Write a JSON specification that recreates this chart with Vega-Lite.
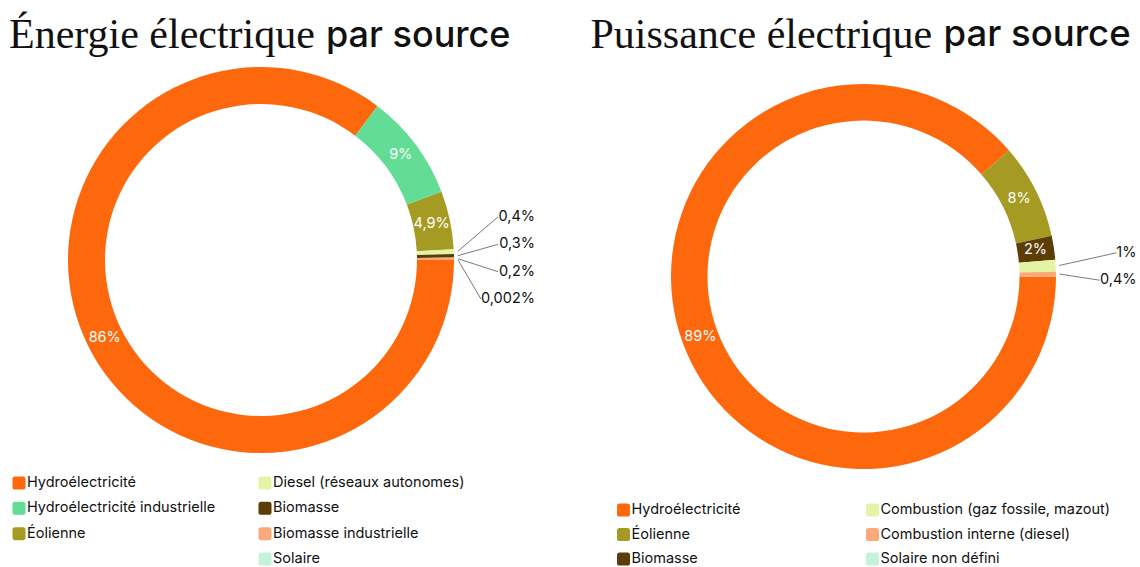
{
  "$schema": "https://vega.github.io/schema/vega-lite/v6.json",
  "padding": {"left": 0, "top": 14, "right": 0, "bottom": 0},
  "autosize": {"type": "pad"},
  "background": "white",
  "config": {"view": {"stroke": null}, "font": "Inter"},
  "datasets": {
    "energie": [
      {"source": "Hydroélectricité", "value": 86, "label": "86%"},
      {"source": "Hydroélectricité industrielle", "value": 9, "label": "9%"},
      {"source": "Éolienne", "value": 4.9, "label": "4,9%"},
      {"source": "Diesel (réseaux autonomes)", "value": 0.4, "label": "0,4%"},
      {"source": "Biomasse", "value": 0.3, "label": "0,3%"},
      {"source": "Biomasse industrielle", "value": 0.2, "label": "0,2%"},
      {"source": "Solaire", "value": 0.002, "label": "0,002%"}
    ],
    "puissance": [
      {"source": "Hydroélectricité", "value": 89, "label": "89%"},
      {"source": "Éolienne", "value": 8, "label": "8%"},
      {"source": "Biomasse", "value": 2, "label": "2%"},
      {"source": "Combustion (gaz fossile, mazout)", "value": 1, "label": "1%"},
      {"source": "Combustion interne (diesel)", "value": 0.4, "label": "0,4%"},
      {"source": "Solaire non défini", "value": 0, "label": ""}
    ]
  },
  "resolve": {"scale": {"theta": "independent", "x": "independent", "y": "independent"}},
  "bounds": "full",
  "spacing": 55.5,
  "hconcat": [
    {
      "resolve": {"scale": {"theta": "independent", "x": "independent", "y": "independent"}},
      "spacing": 4,
      "vconcat": [
        {
          "bounds": "full",
          "spacing": 11,
          "hconcat": [
            {"width": 1, "height": 1, "data": {"values": [{"a": 0}]}, "mark": {"type": "point", "opacity": 0, "size": 1}, "encoding": {},
             "title": {"text": "Énergie électrique", "font": "Liberation Serif", "fontSize": 42, "fontWeight": "normal", "anchor": "start", "baseline": "bottom", "offset": -44, "color": "#111111", "dx": 9}},
            {"width": 1, "height": 1, "data": {"values": [{"a": 0}]}, "mark": {"type": "point", "opacity": 0, "size": 1}, "encoding": {},
             "title": {"text": "par source", "font": "Inter", "fontSize": 36, "fontWeight": 500, "anchor": "start", "baseline": "bottom", "offset": -44, "dy": -8.5, "color": "#111111"}}
          ]
        },
        {
          "spacing": 15,
          "resolve": {"scale": {"theta": "independent", "x": "independent", "y": "independent"}},
          "vconcat": [
            {
              "width": 522, "height": 400,
              "data": {"name": "energie"},
              "transform": [
                {"window": [{"op": "row_number", "as": "idx"}]},
                {"joinaggregate": [{"op": "sum", "field": "value", "as": "total"}]},
                {"window": [{"op": "sum", "field": "value", "as": "cum"}], "sort": [{"field": "idx"}], "frame": [null, 0]},
                {"calculate": "datum.value / datum.total", "as": "pct"},
                {"calculate": "PI/2 + 2*PI*(datum.cum - datum.value/2)/datum.total", "as": "mid"},
                {"calculate": "197*sin(datum.mid)", "as": "sx"},
                {"calculate": "197*cos(datum.mid)", "as": "sy"}
              ],
              "layer": [
                {
                  "mark": {"type": "arc", "radius": 193, "radius2": 156},
                  "encoding": {
                    "theta": {"field": "value", "type": "quantitative", "stack": true, "scale": {"range": [1.5707963, 7.8539816]}},
                    "order": {"field": "idx", "type": "quantitative"},
                    "color": {"field": "source", "type": "nominal", "legend": null,
                      "scale": {"domain": ["Hydroélectricité", "Hydroélectricité industrielle", "Éolienne", "Diesel (réseaux autonomes)", "Biomasse", "Biomasse industrielle", "Solaire", "Combustion (gaz fossile, mazout)", "Combustion interne (diesel)", "Solaire non défini"],
                                "range": ["#fd680c", "#63dc95", "#a59a22", "#e3f5a4", "#5c3d05", "#fba97b", "#c5f3da", "#e3f5a4", "#fba97b", "#c5f3da"]}}
                  }
                },
                {
                  "mark": {"type": "text", "radius": 174.5, "font": "Inter", "fontSize": 14.5, "fill": "white"},
                  "encoding": {
                    "theta": {"field": "value", "type": "quantitative", "stack": true},
                    "order": {"field": "idx", "type": "quantitative"},
                    "text": {"condition": {"test": "datum.pct >= 0.015", "field": "label"}, "value": ""}
                  }
                },
                {
                  "transform": [
                    {"filter": "datum.pct < 0.015 && datum.value > 0"},
                    {"window": [{"op": "row_number", "as": "k"}], "sort": [{"field": "idx"}]},
                    {"joinaggregate": [{"op": "count", "as": "n"}]},
                    {"calculate": "2 + 27.4*((datum.n-1)/2 - (datum.k-1))", "as": "ly"},
                    {"calculate": "274", "as": "lx"},
                    {"calculate": "274 - 8.5*length(datum.label) - 3", "as": "ex"}
                  ],
                  "layer": [
                    {
                      "mark": {"type": "rule", "stroke": "#6b6b6b", "strokeWidth": 0.9},
                      "encoding": {
                        "x": {"field": "sx", "type": "quantitative", "scale": {"domain": [-261, 261], "nice": false, "zero": false}, "axis": null},
                        "y": {"field": "sy", "type": "quantitative", "scale": {"domain": [-200, 200], "nice": false, "zero": false}, "axis": null},
                        "x2": {"field": "ex"},
                        "y2": {"field": "ly"}
                      }
                    },
                    {
                      "mark": {"type": "text", "align": "right", "baseline": "middle", "font": "Inter", "fontSize": 14.5, "fill": "#111111"},
                      "encoding": {
                        "x": {"field": "lx", "type": "quantitative"},
                        "y": {"field": "ly", "type": "quantitative"},
                        "text": {"field": "label"}
                      }
                    }
                  ]
                }
              ]
            },
            {
              "width": 522, "height": 76,
              "data": {"name": "energie"},
              "transform": [
                {"window": [{"op": "row_number", "as": "idx"}]},
                {"calculate": "datum.idx <= 3 ? 0 : 1", "as": "col"},
                {"calculate": "datum.idx <= 3 ? datum.idx - 1 : datum.idx - 4", "as": "row"}
              ],
              "encoding": {
                "x": {"field": "col", "type": "quantitative", "scale": {"domain": [0, 1], "range": [19, 265]}, "axis": null},
                "y": {"field": "row", "type": "quantitative", "scale": {"domain": [0, 3], "range": [0, 76]}, "axis": null}
              },
              "layer": [
                {
                  "mark": {"type": "point", "shape": "M -1 -0.6 Q -1 -1 -0.6 -1 L 0.6 -1 Q 1 -1 1 -0.6 L 1 0.6 Q 1 1 0.6 1 L -0.6 1 Q -1 1 -1 0.6 Z", "size": 169, "filled": true, "opacity": 1},
                  "encoding": {
                    "color": {"field": "source", "type": "nominal", "legend": null,
                      "scale": {"domain": ["Hydroélectricité", "Hydroélectricité industrielle", "Éolienne", "Diesel (réseaux autonomes)", "Biomasse", "Biomasse industrielle", "Solaire", "Combustion (gaz fossile, mazout)", "Combustion interne (diesel)", "Solaire non défini"],
                                "range": ["#fd680c", "#63dc95", "#a59a22", "#e3f5a4", "#5c3d05", "#fba97b", "#c5f3da", "#e3f5a4", "#fba97b", "#c5f3da"]}}
                  }
                },
                {
                  "mark": {"type": "text", "align": "left", "baseline": "middle", "dx": 8, "font": "Inter", "fontSize": 14.5, "fill": "#111111"},
                  "encoding": {"text": {"field": "source"}}
                }
              ]
            }
          ]
        }
      ]
    },
    {
      "resolve": {"scale": {"theta": "independent", "x": "independent", "y": "independent"}},
      "spacing": 4,
      "vconcat": [
        {
          "bounds": "full",
          "spacing": 11,
          "hconcat": [
            {"width": 1, "height": 1, "data": {"values": [{"a": 0}]}, "mark": {"type": "point", "opacity": 0, "size": 1}, "encoding": {},
             "title": {"text": "Puissance électrique", "font": "Liberation Serif", "fontSize": 42, "fontWeight": "normal", "anchor": "start", "baseline": "bottom", "offset": -44, "color": "#111111"}},
            {"width": 1, "height": 1, "data": {"values": [{"a": 0}]}, "mark": {"type": "point", "opacity": 0, "size": 1}, "encoding": {},
             "title": {"text": "par source", "font": "Inter", "fontSize": 36.5, "fontWeight": 500, "anchor": "start", "baseline": "bottom", "offset": -44, "dy": -8.8, "color": "#111111"}}
          ]
        },
        {
          "spacing": 9,
          "resolve": {"scale": {"theta": "independent", "x": "independent", "y": "independent"}},
          "vconcat": [
            {
              "width": 546, "height": 433,
              "data": {"name": "puissance"},
              "transform": [
                {"window": [{"op": "row_number", "as": "idx"}]},
                {"joinaggregate": [{"op": "sum", "field": "value", "as": "total"}]},
                {"window": [{"op": "sum", "field": "value", "as": "cum"}], "sort": [{"field": "idx"}], "frame": [null, 0]},
                {"calculate": "datum.value / datum.total", "as": "pct"},
                {"calculate": "PI/2 + 2*PI*(datum.cum - datum.value/2)/datum.total", "as": "mid"},
                {"calculate": "196*sin(datum.mid)", "as": "sx"},
                {"calculate": "196*cos(datum.mid)", "as": "sy"}
              ],
              "layer": [
                {
                  "mark": {"type": "arc", "radius": 192.5, "radius2": 156},
                  "encoding": {
                    "theta": {"field": "value", "type": "quantitative", "stack": true, "scale": {"range": [1.5707963, 7.8539816]}},
                    "order": {"field": "idx", "type": "quantitative"},
                    "color": {"field": "source", "type": "nominal", "legend": null,
                      "scale": {"domain": ["Hydroélectricité", "Hydroélectricité industrielle", "Éolienne", "Diesel (réseaux autonomes)", "Biomasse", "Biomasse industrielle", "Solaire", "Combustion (gaz fossile, mazout)", "Combustion interne (diesel)", "Solaire non défini"],
                                "range": ["#fd680c", "#63dc95", "#a59a22", "#e3f5a4", "#5c3d05", "#fba97b", "#c5f3da", "#e3f5a4", "#fba97b", "#c5f3da"]}}
                  }
                },
                {
                  "mark": {"type": "text", "radius": 174, "font": "Inter", "fontSize": 14.5, "fill": "white"},
                  "encoding": {
                    "theta": {"field": "value", "type": "quantitative", "stack": true},
                    "order": {"field": "idx", "type": "quantitative"},
                    "text": {"condition": {"test": "datum.pct >= 0.015", "field": "label"}, "value": ""}
                  }
                },
                {
                  "transform": [
                    {"filter": "datum.pct < 0.015 && datum.value > 0"},
                    {"window": [{"op": "row_number", "as": "k"}], "sort": [{"field": "idx"}]},
                    {"joinaggregate": [{"op": "count", "as": "n"}]},
                    {"calculate": "10 + 27.4*((datum.n-1)/2 - (datum.k-1))", "as": "ly"},
                    {"calculate": "273", "as": "lx"},
                    {"calculate": "273 - 8.5*length(datum.label) - 3", "as": "ex"}
                  ],
                  "layer": [
                    {
                      "mark": {"type": "rule", "stroke": "#6b6b6b", "strokeWidth": 0.9},
                      "encoding": {
                        "x": {"field": "sx", "type": "quantitative", "scale": {"domain": [-273, 273], "nice": false, "zero": false}, "axis": null},
                        "y": {"field": "sy", "type": "quantitative", "scale": {"domain": [-216.5, 216.5], "nice": false, "zero": false}, "axis": null},
                        "x2": {"field": "ex"},
                        "y2": {"field": "ly"}
                      }
                    },
                    {
                      "mark": {"type": "text", "align": "right", "baseline": "middle", "font": "Inter", "fontSize": 14.5, "fill": "#111111"},
                      "encoding": {
                        "x": {"field": "lx", "type": "quantitative"},
                        "y": {"field": "ly", "type": "quantitative"},
                        "text": {"field": "label"}
                      }
                    }
                  ]
                }
              ]
            },
            {
              "width": 546, "height": 49,
              "data": {"name": "puissance"},
              "transform": [
                {"window": [{"op": "row_number", "as": "idx"}]},
                {"calculate": "datum.idx <= 3 ? 0 : 1", "as": "col"},
                {"calculate": "(datum.idx - 1) % 3", "as": "row"}
              ],
              "encoding": {
                "x": {"field": "col", "type": "quantitative", "scale": {"domain": [0, 1], "range": [33, 282]}, "axis": null},
                "y": {"field": "row", "type": "quantitative", "scale": {"domain": [0, 2], "range": [0, 49]}, "axis": null}
              },
              "layer": [
                {
                  "mark": {"type": "point", "shape": "M -1 -0.6 Q -1 -1 -0.6 -1 L 0.6 -1 Q 1 -1 1 -0.6 L 1 0.6 Q 1 1 0.6 1 L -0.6 1 Q -1 1 -1 0.6 Z", "size": 169, "filled": true, "opacity": 1},
                  "encoding": {
                    "color": {"field": "source", "type": "nominal", "legend": null,
                      "scale": {"domain": ["Hydroélectricité", "Hydroélectricité industrielle", "Éolienne", "Diesel (réseaux autonomes)", "Biomasse", "Biomasse industrielle", "Solaire", "Combustion (gaz fossile, mazout)", "Combustion interne (diesel)", "Solaire non défini"],
                                "range": ["#fd680c", "#63dc95", "#a59a22", "#e3f5a4", "#5c3d05", "#fba97b", "#c5f3da", "#e3f5a4", "#fba97b", "#c5f3da"]}}
                  }
                },
                {
                  "mark": {"type": "text", "align": "left", "baseline": "middle", "dx": 8, "font": "Inter", "fontSize": 14.5, "fill": "#111111"},
                  "encoding": {"text": {"field": "source"}}
                }
              ]
            }
          ]
        }
      ]
    }
  ]
}
